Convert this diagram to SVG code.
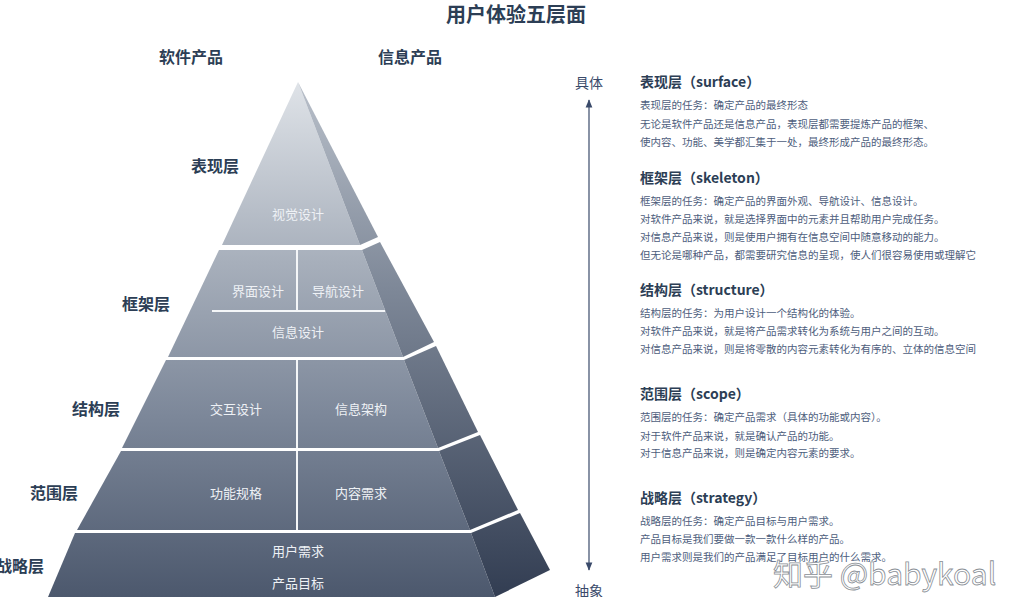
<svg xmlns="http://www.w3.org/2000/svg" width="1015" height="597" viewBox="0 0 1015 597">
<style>
.t{font-family:"Noto Sans CJK SC","Liberation Sans",sans-serif}
.in{font-size:13px;fill:#eef1f5;text-anchor:middle}
.lb{font-size:16px;font-weight:bold;fill:#2c3e55;text-anchor:middle}
.hd{font-size:14px;font-weight:bold;fill:#2c3e55}
.bd{font-size:10.5px;fill:#4d5d7c}
.div{stroke:#f4f6f8;stroke-width:2}
</style>
<defs>
<linearGradient id="fg" x1="0" y1="82" x2="0" y2="597" gradientUnits="userSpaceOnUse">
<stop offset="0" stop-color="#dfe3e8"/><stop offset="0.35" stop-color="#a7afbb"/><stop offset="0.65" stop-color="#7c8799"/><stop offset="1" stop-color="#4c586d"/></linearGradient>
<linearGradient id="sg" x1="0" y1="82" x2="0" y2="597" gradientUnits="userSpaceOnUse">
<stop offset="0" stop-color="#b9c0ca"/><stop offset="0.4" stop-color="#7e8898"/><stop offset="1" stop-color="#323d52"/></linearGradient>
<marker id="ar" viewBox="0 0 10 10" refX="9" refY="5" markerWidth="7" markerHeight="7" orient="auto-start-reverse"><path d="M0,1 L10,5 L0,9 z" fill="#3a4a6a"/></marker>
</defs>
<rect width="1015" height="597" fill="#fff"/>
<text class="t" x="516" y="22" font-size="20" font-weight="bold" fill="#2c3e55" text-anchor="middle">用户体验五层面</text>
<text class="t lb" x="191" y="63">软件产品</text>
<text class="t lb" x="410" y="63">信息产品</text>
<g id="surface">
<polygon points="298,82 222,245 360,245" fill="url(#fg)"/>
<polygon points="298,82 360,245 378,237" fill="url(#sg)"/>
<text class="t in" x="298" y="219">视觉设计</text>
<text class="t lb" x="215" y="172">表现层</text>
</g>
<g id="skeleton">
<polygon points="219,250 362,250 403,357 168,357" fill="url(#fg)"/>
<polygon points="362,250 380,242 434,342 403,357" fill="url(#sg)"/>
<line class="div" x1="212" y1="311" x2="385" y2="311"/>
<line class="div" x1="297" y1="250" x2="297" y2="311"/>
<text class="t in" x="258" y="296">界面设计</text>
<text class="t in" x="338" y="296">导航设计</text>
<text class="t in" x="298" y="337">信息设计</text>
<text class="t lb" x="146" y="310">框架层</text>
</g>
<g id="structure">
<polygon points="166,360 404,360 438,448 122,448" fill="url(#fg)"/>
<polygon points="404,360 436,346 478,432 438,448" fill="url(#sg)"/>
<line class="div" x1="297" y1="360" x2="297" y2="448"/>
<text class="t in" x="236" y="414">交互设计</text>
<text class="t in" x="361" y="414">信息架构</text>
<text class="t lb" x="96" y="415">结构层</text>
</g>
<g id="scope">
<polygon points="121,451 439,451 470,530 77,530" fill="url(#fg)"/>
<polygon points="439,451 480,435 518,510 470,530" fill="url(#sg)"/>
<line class="div" x1="297" y1="451" x2="297" y2="530"/>
<text class="t in" x="236" y="498">功能规格</text>
<text class="t in" x="361" y="498">内容需求</text>
<text class="t lb" x="54" y="499">范围层</text>
</g>
<g id="strategy">
<polygon points="75,533 471,533 495,597 48,597" fill="url(#fg)"/>
<polygon points="471,533 520,513 550,570 495,597" fill="url(#sg)"/>
<text class="t in" x="298" y="556">用户需求</text>
<text class="t in" x="298" y="588">产品目标</text>
<text class="t lb" x="20" y="572">战略层</text>
</g>
<g id="connectors">
<line x1="589" y1="100" x2="589" y2="570" stroke="#3a4a6a" stroke-width="1.2" marker-start="url(#ar)" marker-end="url(#ar)"/>
</g>
<text class="t" x="589" y="88" font-size="14" fill="#3a4a6a" text-anchor="middle">具体</text>
<text class="t" x="589" y="596" font-size="14" fill="#3a4a6a" text-anchor="middle">抽象</text>
<g id="text-surface">
<text class="t hd" x="640" y="87">表现层（surface）</text>
<text class="t bd" x="640" y="109">表现层的任务：确定产品的最终形态</text>
<text class="t bd" x="640" y="128">无论是软件产品还是信息产品，表现层都需要提炼产品的框架、</text>
<text class="t bd" x="640" y="146">使内容、功能、美学都汇集于一处，最终形成产品的最终形态。</text>
</g>
<g id="text-skeleton">
<text class="t hd" x="640" y="183">框架层（skeleton）</text>
<text class="t bd" x="640" y="205">框架层的任务：确定产品的界面外观、导航设计、信息设计。</text>
<text class="t bd" x="640" y="223">对软件产品来说，就是选择界面中的元素并且帮助用户完成任务。</text>
<text class="t bd" x="640" y="241">对信息产品来说，则是使用户拥有在信息空间中随意移动的能力。</text>
<text class="t bd" x="640" y="259">但无论是哪种产品，都需要研究信息的呈现，使人们很容易使用或理解它</text>
</g>
<g id="text-structure">
<text class="t hd" x="640" y="295">结构层（structure）</text>
<text class="t bd" x="640" y="317">结构层的任务：为用户设计一个结构化的体验。</text>
<text class="t bd" x="640" y="335">对软件产品来说，就是将产品需求转化为系统与用户之间的互动。</text>
<text class="t bd" x="640" y="353">对信息产品来说，则是将零散的内容元素转化为有序的、立体的信息空间</text>
</g>
<g id="text-scope">
<text class="t hd" x="640" y="399">范围层（scope）</text>
<text class="t bd" x="640" y="421">范围层的任务：确定产品需求（具体的功能或内容）。</text>
<text class="t bd" x="640" y="440">对于软件产品来说，就是确认产品的功能。</text>
<text class="t bd" x="640" y="457">对于信息产品来说，则是确定内容元素的要求。</text>
</g>
<g id="text-strategy">
<text class="t hd" x="640" y="503">战略层（strategy）</text>
<text class="t bd" x="640" y="525">战略层的任务：确定产品目标与用户需求。</text>
<text class="t bd" x="640" y="543">产品目标是我们要做一款一款什么样的产品。</text>
<text class="t bd" x="640" y="561">用户需求则是我们的产品满足了目标用户的什么需求。</text>
</g>
<text class="t" x="773" y="585" font-size="30" fill="#ffffff" fill-opacity="0.85" stroke="#8a8f96" stroke-width="0.8">知乎 @babykoal</text>
</svg>
